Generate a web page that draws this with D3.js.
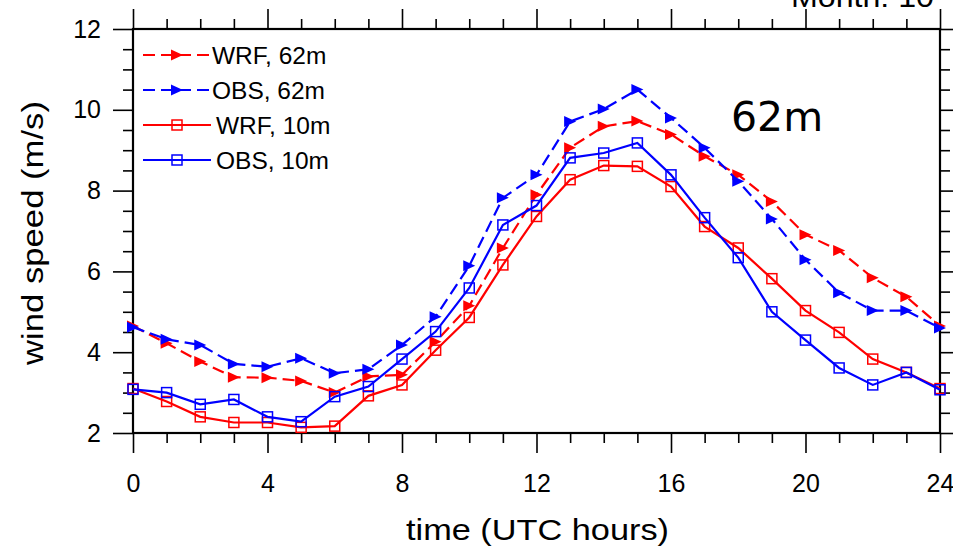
<!DOCTYPE html>
<html>
<head>
<meta charset="utf-8">
<script src="https://cdn.jsdelivr.net/npm/d3@7"></script>
<style>
  html, body { margin: 0; padding: 0; background: #fff; }
  svg { display: block; }
</style>
</head>
<body>
<svg id="chart" width="953" height="548"></svg>
<script>
const hours = d3.range(0, 25);
const wrf62 = [4.65,4.22,3.77,3.38,3.37,3.29,3.0,3.4,3.44,4.26,5.15,6.58,7.9,9.06,9.59,9.72,9.39,8.85,8.39,7.73,6.91,6.52,5.84,5.37,4.65];
const obs62 = [4.62,4.32,4.18,3.71,3.64,3.85,3.48,3.58,4.18,4.88,6.14,7.82,8.39,9.71,10.02,10.5,9.8,9.06,8.23,7.3,6.29,5.47,5.03,5.03,4.6];
const wrf10 = [3.1,2.78,2.4,2.26,2.26,2.14,2.17,2.92,3.19,4.05,4.86,6.16,7.36,8.27,8.62,8.6,8.1,7.11,6.58,5.82,5.03,4.49,3.83,3.5,3.1];
const obs10 = [3.08,3.0,2.71,2.83,2.4,2.28,2.9,3.15,3.83,4.51,5.59,7.15,7.63,8.81,8.93,9.18,8.39,7.33,6.34,5.0,4.3,3.61,3.19,3.5,3.07];
const xTicks = [0,4,8,12,16,20,24];
const yTicks = [2,4,6,8,10,12];
const seriesNames = ["WRF, 62m","OBS, 62m","WRF, 10m","OBS, 10m"];
const seriesColors = ["#ff0000","#0000ff","#ff0000","#0000ff"];

const series = [
  {name: seriesNames[0], values: wrf62, color: seriesColors[0], dashed: true, marker: "tri"},
  {name: seriesNames[1], values: obs62, color: seriesColors[1], dashed: true, marker: "tri"},
  {name: seriesNames[2], values: wrf10, color: seriesColors[2], dashed: false, marker: "sq"},
  {name: seriesNames[3], values: obs10, color: seriesColors[3], dashed: false, marker: "sq"}
];

const SANS = "'Liberation Sans', Arial, Helvetica, sans-serif";
const L = 133, R = 940, T = 29, B = 433;
const svg = d3.select("#chart");
const x = d3.scaleLinear().domain([0, 24]).range([L, R]);
const y = d3.scaleLinear().domain([2, 12]).range([B, T]);

const major = 20, minor = 10;
function styleAxis(g) {
  g.select(".domain").remove();
  g.selectAll("line").attr("stroke", "#000").attr("stroke-width", 1.6);
}
const xMinor = d3.range(0, 25, 1).filter(v => v % 4 !== 0);
const yMinor = d3.range(2, 12.01, 0.5).filter(v => v % 2 !== 0);

// bottom
svg.append("g").attr("transform", `translate(0,${B})`)
  .call(d3.axisBottom(x).tickValues(xMinor).tickSize(minor).tickFormat(""))
  .call(styleAxis);
const gb = svg.append("g").attr("transform", `translate(0,${B})`)
  .call(d3.axisBottom(x).tickValues(xTicks).tickSize(major).tickPadding(21).tickFormat(d3.format("d")))
  .call(styleAxis);
gb.selectAll("text").attr("fill", "#000")
  .style("font-family", SANS).style("font-size", "25px");
// top
svg.append("g").attr("transform", `translate(0,${T})`)
  .call(d3.axisTop(x).tickValues(xMinor).tickSize(minor).tickFormat(""))
  .call(styleAxis);
svg.append("g").attr("transform", `translate(0,${T})`)
  .call(d3.axisTop(x).tickValues(xTicks).tickSize(major).tickFormat(""))
  .call(styleAxis);
// left
svg.append("g").attr("transform", `translate(${L},0)`)
  .call(d3.axisLeft(y).tickValues(yMinor).tickSize(minor).tickFormat(""))
  .call(styleAxis);
const gl = svg.append("g").attr("transform", `translate(${L},0)`)
  .call(d3.axisLeft(y).tickValues(yTicks).tickSize(major).tickPadding(12).tickFormat(d3.format("d")))
  .call(styleAxis);
gl.selectAll("text").attr("fill", "#000")
  .style("font-family", SANS).style("font-size", "25px");
// right
svg.append("g").attr("transform", `translate(${R},0)`)
  .call(d3.axisRight(y).tickValues(yMinor).tickSize(minor).tickFormat(""))
  .call(styleAxis);
svg.append("g").attr("transform", `translate(${R},0)`)
  .call(d3.axisRight(y).tickValues(yTicks).tickSize(major).tickFormat(""))
  .call(styleAxis);

// frame
svg.append("rect").attr("x", L).attr("y", T).attr("width", R - L).attr("height", B - T)
  .attr("fill", "none").attr("stroke", "#000").attr("stroke-width", 2.2);

// Lines
const line = d3.line().x((d, i) => x(hours[i])).y(d => y(d));
const triPath = "M-6,-5.5 L6,0 L-6,5.5 Z";
function drawMarker(g, type, color, cx, cy) {
  if (type === "tri") {
    g.append("path").attr("d", triPath).attr("transform", `translate(${cx},${cy})`)
      .attr("fill", color).attr("stroke", "none");
  } else {
    g.append("rect").attr("x", cx - 5).attr("y", cy - 5).attr("width", 10).attr("height", 10)
      .attr("fill", "none").attr("stroke", color).attr("stroke-width", 1.5);
  }
}
series.forEach(s => {
  const g = svg.append("g");
  g.append("path").datum(s.values).attr("d", line)
    .attr("fill", "none").attr("stroke", s.color).attr("stroke-width", 2.2)
    .attr("stroke-dasharray", s.dashed ? "12,6" : null);
  s.values.forEach((v, i) => drawMarker(g, s.marker, s.color, x(hours[i]), y(v)));
});

// Legend
const legY = [55, 90, 125, 160];
const legTextX = [212, 212, 216, 216];
series.forEach((s, i) => {
  const g = svg.append("g");
  g.append("line").attr("x1", 143).attr("x2", 211).attr("y1", legY[i]).attr("y2", legY[i])
    .attr("stroke", s.color).attr("stroke-width", 2.2)
    .attr("stroke-dasharray", s.dashed ? "12,6" : null);
  drawMarker(g, s.marker, s.color, 177, legY[i]);
  g.append("text").attr("x", legTextX[i]).attr("y", legY[i]).attr("dy", "0.36em")
    .style("font-family", SANS).style("font-size", "24.5px").attr("fill", "#000").text(s.name);
});

// Axis titles
svg.append("text").attr("x", (L + R) / 2 + 1).attr("y", 540).attr("text-anchor", "middle")
  .style("font-family", SANS).style("font-size", "30px")
  .attr("textLength", 263).attr("lengthAdjust", "spacingAndGlyphs")
  .attr("fill", "#000").text("time (UTC hours)");
svg.append("text").attr("transform", `translate(43,${(T + B) / 2 + 2}) rotate(-90)`)
  .attr("text-anchor", "middle")
  .style("font-family", SANS).style("font-size", "30px")
  .attr("textLength", 264).attr("lengthAdjust", "spacingAndGlyphs")
  .attr("fill", "#000").text("wind speed (m/s)");

// Top-right title (cut off at the top edge, as in the reference)
svg.append("text").attr("x", 934).attr("y", 7).attr("text-anchor", "end")
  .style("font-family", SANS).style("font-size", "30px")
  .attr("textLength", 143).attr("lengthAdjust", "spacingAndGlyphs")
  .attr("fill", "#000").text("Month: 10");

// Panel label
svg.append("text").attr("x", 731).attr("y", 131)
  .style("font-family", "'DejaVu Sans', sans-serif").style("font-size", "41px")
  .attr("fill", "#000").text("62m");
</script>
</body>
</html>
